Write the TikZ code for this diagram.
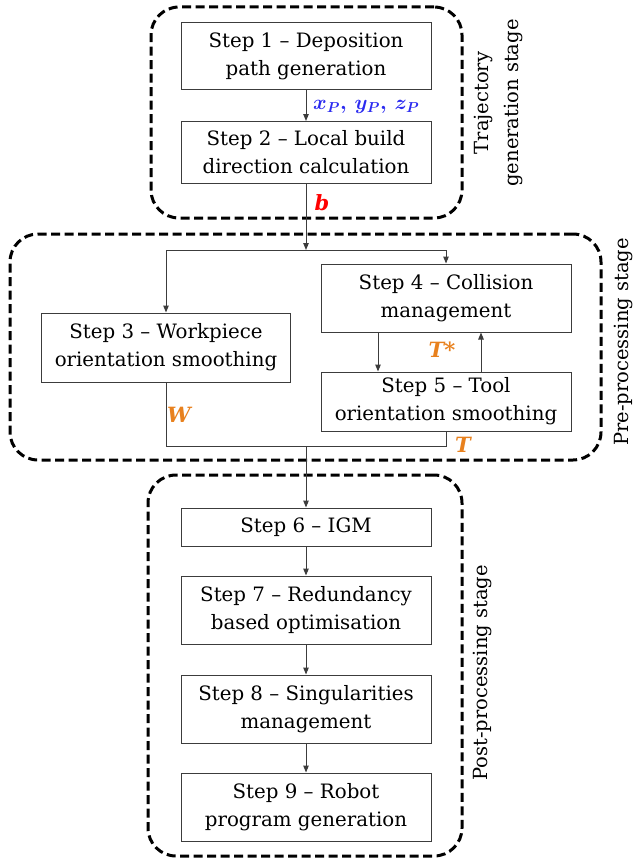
\documentclass[tikz,border=0pt]{standalone}
\usepackage{fontspec}
\setmainfont{DejaVu Serif}
\usetikzlibrary{arrows.meta}
\definecolor{boxline}{HTML}{3C3C3C}
\definecolor{xblue}{HTML}{2B2BF0}
\definecolor{bred}{HTML}{FF0000}
\definecolor{torange}{HTML}{E8811E}
\begin{document}
\begin{tikzpicture}[x=1pt,y=-1pt,
  txt/.style={font=\fontsize{19.8}{28}\selectfont},
  stepbox/.style={draw=boxline, line width=1pt, align=center, minimum width=250pt, inner sep=0pt, txt},
  stage/.style={draw=black, line width=3pt, dash pattern=on 9pt off 4.5pt, rounded corners=28pt, inner sep=0pt},
  conn/.style={draw=boxline, line width=1pt},
  arr/.style={conn, -{Triangle[length=7pt,width=5.5pt]}},
  stagelbl/.style={rotate=90, align=center, font=\fontsize{19.5}{30}\selectfont},
  varlbl/.style={font=\fontsize{21}{24}\selectfont\bfseries\itshape, inner sep=0pt}
]
\useasboundingbox (0,0) rectangle (633,859);

% stage frames
\node[stage, minimum width=311pt, minimum height=211pt] (g1) at (306.5,112.5) {};
\node[stage, minimum width=591pt, minimum height=226pt] (g2) at (305.5,347) {};
\node[stage, minimum width=314pt, minimum height=381pt] (g3) at (305,665.5) {};

% steps
\node[stepbox, minimum height=67pt] (s1) at (306,56.3) {Step 1 – Deposition\\path generation};
\node[stepbox, minimum height=62pt] (s2) at (306,152.5) {Step 2 – Local build\\direction calculation};
\node[stepbox, minimum width=249pt, minimum height=69pt] (s3) at (166,347.5) {Step 3 – Workpiece\\orientation smoothing};
\node[stepbox, minimum height=68pt] (s4) at (446,298) {Step 4 – Collision\\management};
\node[stepbox, minimum height=59pt] (s5) at (446,401.5) {Step 5 – Tool\\orientation smoothing};
\node[stepbox, minimum height=38pt] (s6) at (306,527) {Step 6 – IGM};
\node[stepbox, minimum height=68pt] (s7) at (306,610) {Step 7 – Redundancy\\based optimisation};
\node[stepbox, minimum height=68pt] (s8) at (306,709) {Step 8 – Singularities\\management};
\node[stepbox, minimum height=68pt] (s9) at (306,807) {Step 9 – Robot\\program generation};

% stage labels
\node[stagelbl] (l1) at (498,103) {Trajectory\\generation stage};
\node[stagelbl] (l2) at (623,342) {Pre-processing stage};
\node[stagelbl] (l3) at (482,673) {Post-processing stage};

% connectors
\coordinate (split) at (306,250);
\coordinate (merge) at (306,446);
\coordinate (mr) at (446,446);
\draw[arr] (s1) -- (s2);
\draw[arr] (s2) -- (split);
\draw[arr] (split) -| (s3.north);
\draw[arr] (split) -| (s4.north);
\draw[arr] ([xshift=-68pt]s4.south) -- ([xshift=-68pt]s5.north);
\draw[arr] ([xshift=35pt]s5.north) -- ([xshift=35pt]s4.south);
\draw[conn] (s3.south) |- (mr) -- (s5.south);
\draw[arr] (merge) -- (s6);
\draw[arr] (s6) -- (s7);
\draw[arr] (s7) -- (s8);
\draw[arr] (s8) -- (s9);

% variable labels
\node[anchor=west, inner sep=0pt, text=xblue, font=\fontsize{21}{24}\selectfont\boldmath] (xyz) at (313,107) {$x_P,\,y_P,\,z_P$};
\node[varlbl, text=bred] (lb) at (322,203) {b};
\node[varlbl, text=torange] (lts) at (442,350) {T*};
\node[varlbl, text=torange] (lw) at (179,415) {W};
\node[varlbl, text=torange] (lt) at (463,445) {T};
\end{tikzpicture}
\end{document}
